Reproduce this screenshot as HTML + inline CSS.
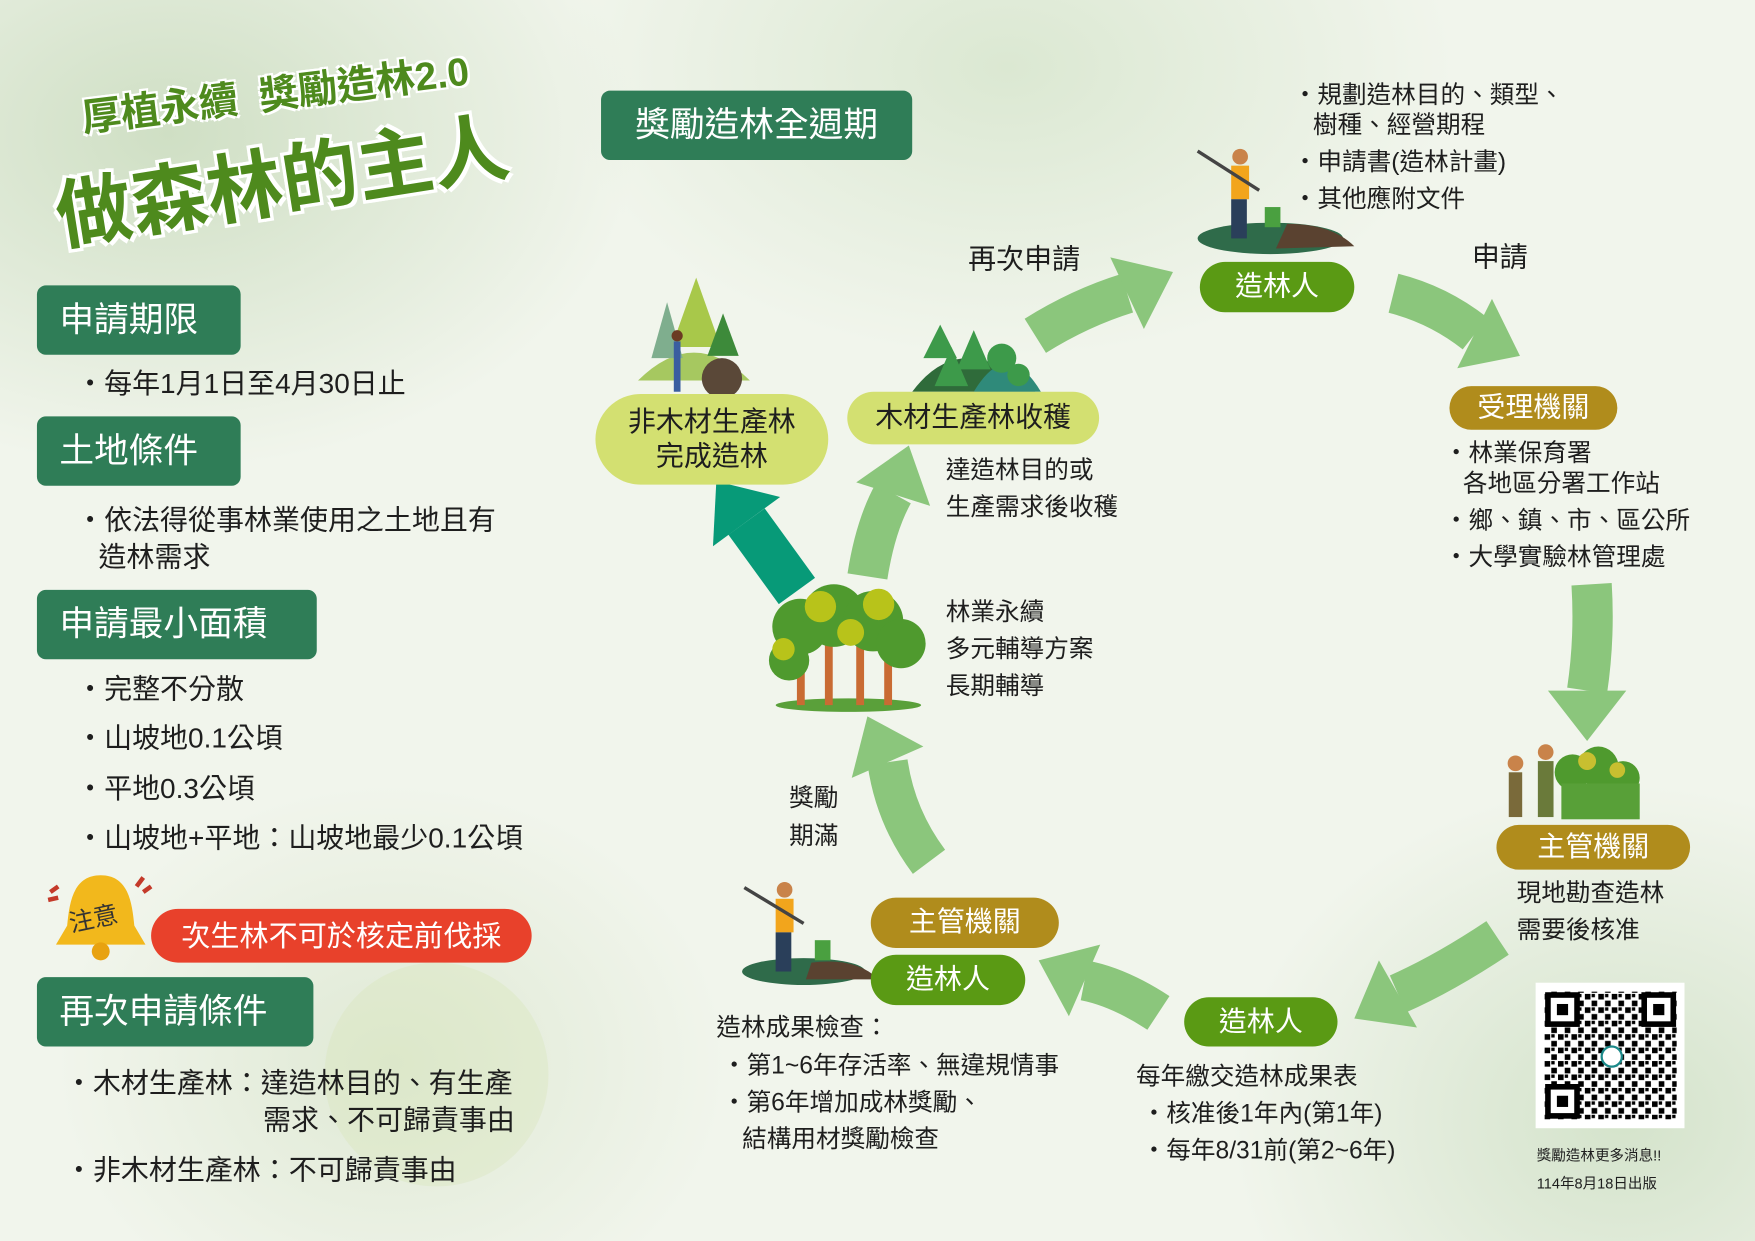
<!DOCTYPE html>
<html><head><meta charset="utf-8"><style>
html,body{margin:0;padding:0;}
body{width:1755px;height:1241px;overflow:hidden;background:#eef3e6;}
#s{position:absolute;left:0;top:0;width:1568px;height:1109px;transform:scale(1.11926);transform-origin:0 0;font-family:"Liberation Sans","Noto Sans CJK TC",sans-serif;color:#1e1e1e;
background:radial-gradient(ellipse 420px 300px at 150px 120px,#cfdfc4 0%,rgba(207,223,196,0) 100%),radial-gradient(ellipse 400px 260px at 900px 60px,#dbe8d2 0%,rgba(219,232,210,0) 100%),radial-gradient(ellipse 350px 300px at 1450px 1000px,#d4e3cb 0%,rgba(212,227,203,0) 100%),radial-gradient(ellipse 300px 250px at 350px 950px,#dfe9d4 0%,rgba(223,233,212,0) 100%),#f1f5ec;}
.a{position:absolute;white-space:nowrap;}
.h{position:absolute;background:#2f7d57;color:#fff;border-radius:8px;font-size:31px;line-height:62px;height:62px;padding-left:20px;box-sizing:border-box;}
.t{position:absolute;font-size:25px;line-height:30px;white-space:nowrap;}
.s{position:absolute;font-size:22px;line-height:28px;white-space:nowrap;}
.p{position:absolute;border-radius:24px;color:#fff;font-size:25px;text-align:center;}
.g{background:#5a9a14;}
.o{background:#b08c1c;}
.y{background:#d3e071;color:#1e1e1e;}
</style></head><body><div id="s">
<div class="a" style="left:70px;top:78px;transform:rotate(-7deg);transform-origin:0 0;font-size:35px;font-weight:bold;color:#4e8a1d;text-shadow:2px 2px 0 #fff,-2px -2px 0 #fff,2px -2px 0 #fff,-2px 2px 0 #fff;">厚植永續&nbsp;&nbsp;獎勵造林2.0</div>
<div class="a" style="left:42px;top:140px;transform:rotate(-9deg);transform-origin:0 0;font-size:68px;font-weight:bold;color:#4e8a1d;text-shadow:3px 3px 0 #fff,-3px -3px 0 #fff,3px -3px 0 #fff,-3px 3px 0 #fff;">做森林的主人</div>

<div class="h" style="left:33px;top:255px;width:182px;">申請期限</div>
<div class="t" style="left:68px;top:328px;">・每年1月1日至4月30日止</div>
<div class="h" style="left:33px;top:372px;width:182px;">土地條件</div>
<div class="t" style="left:68px;top:450px;">・依法得從事林業使用之土地且有</div>
<div class="t" style="left:88px;top:483px;">造林需求</div>
<div class="h" style="left:33px;top:527px;width:250px;">申請最小面積</div>
<div class="t" style="left:68px;top:601px;">・完整不分散</div>
<div class="t" style="left:68px;top:645px;">・山坡地0.1公頃</div>
<div class="t" style="left:68px;top:690px;">・平地0.3公頃</div>
<div class="t" style="left:68px;top:734px;">・山坡地+平地：山坡地最少0.1公頃</div>

<svg class="a" style="left:40px;top:772px" width="100" height="90"><path d="M50 10 C25 10 22 35 20 55 L10 72 L90 72 L80 55 C78 35 75 10 50 10Z" fill="#f2b81c"/><circle cx="50" cy="78" r="8" fill="#e8a210"/><path d="M5 25 L12 20 M3 32 L12 30 M88 12 L82 20 M95 20 L88 25" stroke="#c43a2a" stroke-width="4"/><text x="22" y="55" font-size="22" fill="#333" transform="rotate(-12 50 50)" font-family="Liberation Sans,Noto Sans CJK TC,sans-serif">注意</text></svg>
<div class="a" style="left:135px;top:812px;width:340px;height:48px;border-radius:24px;background:#e8412b;color:#fff;font-size:26px;line-height:48px;text-align:center;">次生林不可於核定前伐採</div>

<div class="a" style="left:290px;top:860px;width:200px;height:200px;border-radius:50%;background:#d7e4b8;opacity:.35"></div>
<div class="h" style="left:33px;top:873px;width:247px;">再次申請條件</div>
<div class="t" style="left:58px;top:953px;">・木材生產林：達造林目的、有生產</div>
<div class="t" style="left:235px;top:986px;">需求、不可歸責事由</div>
<div class="t" style="left:58px;top:1031px;">・非木材生產林：不可歸責事由</div>

<div class="a" style="left:537px;top:81px;width:278px;height:62px;background:#2f7d57;color:#fff;border-radius:8px;font-size:31px;line-height:62px;text-align:center;">獎勵造林全週期</div>

<svg class="a" style="left:0;top:0" width="1568" height="1109">
<g fill="none" stroke="#8bc67c" stroke-width="36">
<path d="M925,300 Q965,275 1007,262"/>
<path d="M1245,262 Q1285,272 1318,298"/>
<path d="M1422,522 Q1425,570 1418,617"/>
<path d="M1338,838 Q1290,870 1249,888"/>
<path d="M1035,905 Q1000,882 969,876"/>
<path d="M830,770 Q800,730 793,681"/>
<path d="M775,515 Q782,470 798,441"/>
</g>
<g fill="#8bc67c">
<polygon points="1048,243 1022,294 992,230"/>
<polygon points="1358,318 1302,329 1333,267"/>
<polygon points="1418,662 1383,617 1453,617"/>
<polygon points="1210,910 1232,858 1266,918"/>
<polygon points="928,858 983,844 955,908"/>
<polygon points="775,640 825,667 761,695"/>
<polygon points="812,398 831,452 765,431"/>
</g>
<path d="M712,528 L667,466" stroke="#079a78" stroke-width="40"/>
<polygon points="640,430 697,444 637,488" fill="#079a78"/>
<ellipse cx="758" cy="630" rx="65" ry="6" fill="#5aa03a"/>
<g fill="#c96b33"><rect x="712" y="570" width="7" height="60"/><rect x="737" y="565" width="7" height="65"/><rect x="765" y="570" width="7" height="60"/><rect x="790" y="575" width="7" height="55"/></g>
<g fill="#4f9a2e"><circle cx="715" cy="560" r="25"/><circle cx="745" cy="550" r="28"/><circle cx="780" cy="555" r="27"/><circle cx="805" cy="575" r="22"/><circle cx="705" cy="590" r="18"/></g>
<g fill="#b8c31a"><circle cx="733" cy="542" r="14"/><circle cx="785" cy="540" r="14"/><circle cx="760" cy="565" r="12"/><circle cx="700" cy="580" r="10"/></g>
<path d="M815,350 Q860,290 925,350Z" fill="#2f6b3a"/><path d="M870,350 Q900,300 930,350Z" fill="#2f8a7a"/>
<g fill="#3d9a4a"><polygon points="840,290 825,320 855,320"/><polygon points="870,295 855,330 885,330"/><polygon points="850,310 835,345 865,345"/><circle cx="895" cy="320" r="13"/><circle cx="910" cy="335" r="10"/></g>
<path d="M570,340 Q620,290 670,340Z" fill="#a6c860"/>
<g><polygon points="622,248 600,310 644,310" fill="#a8c84a"/><polygon points="596,270 582,320 610,320" fill="#7fae8e"/><polygon points="646,280 632,318 660,318" fill="#3d8a3a"/></g>
<circle cx="645" cy="338" r="18" fill="#5a4838"/>
<rect x="602" y="305" width="6" height="45" fill="#3a5ea0"/><circle cx="605" cy="300" r="5" fill="#6b3a22"/>
<ellipse cx="1135" cy="213" rx="65" ry="14" fill="#2f6b4a"/>
<path d="M1150,200 Q1190,200 1210,220 L1140,222Z" fill="#5a4230"/>
<rect x="1100" y="148" width="16" height="30" fill="#f2a51c"/><rect x="1100" y="178" width="14" height="35" fill="#2a3f5a"/><circle cx="1108" cy="140" r="7" fill="#c9834a"/>
<line x1="1070" y1="135" x2="1125" y2="170" stroke="#444" stroke-width="3"/>
<rect x="1130" y="185" width="14" height="18" fill="#4aa040"/>
<ellipse cx="718" cy="868" rx="55" ry="12" fill="#2f6b4a"/>
<path d="M725,860 Q765,855 785,875 L720,875Z" fill="#5a4230"/>
<rect x="693" y="803" width="16" height="30" fill="#f2a51c"/><rect x="693" y="833" width="14" height="35" fill="#2a3f5a"/><circle cx="701" cy="795" r="7" fill="#c9834a"/>
<line x1="665" y1="793" x2="718" y2="825" stroke="#444" stroke-width="3"/>
<rect x="728" y="840" width="14" height="18" fill="#4aa040"/>
<g fill="#4f9a2e"><circle cx="1405" cy="690" r="16"/><circle cx="1428" cy="685" r="18"/><circle cx="1450" cy="695" r="15"/></g>
<g fill="#c8bf30"><circle cx="1418" cy="680" r="8"/><circle cx="1445" cy="688" r="7"/></g>
<rect x="1395" y="700" width="70" height="32" fill="#58a038"/>
<rect x="1348" y="690" width="12" height="40" fill="#7a6a3a"/><circle cx="1354" cy="682" r="7" fill="#c9834a"/>
<rect x="1374" y="680" width="14" height="50" fill="#6a7a3a"/><circle cx="1381" cy="672" r="7" fill="#c9834a"/>
<rect x="1372" y="878" width="133" height="130" fill="#fff"/>
<defs><pattern id="q" width="12" height="12" patternUnits="userSpaceOnUse"><rect width="5" height="5" fill="#000"/><rect x="6" y="6" width="5" height="5" fill="#000"/><rect x="6" y="0" width="3" height="3" fill="#000"/></pattern></defs>
<rect x="1380" y="886" width="118" height="114" fill="url(#q)"/>
<g fill="#fff" stroke="#000" stroke-width="5"><rect x="1383" y="889" width="26" height="26"/><rect x="1469" y="889" width="26" height="26"/><rect x="1383" y="971" width="26" height="26"/></g>
<g fill="#000"><rect x="1391" y="897" width="10" height="10"/><rect x="1477" y="897" width="10" height="10"/><rect x="1391" y="979" width="10" height="10"/></g>
<circle cx="1440" cy="944" r="9" fill="#fff" stroke="#1b8a8a" stroke-width="2"/>
</svg>

<div class="p g" style="left:1072px;top:234px;width:138px;height:45px;line-height:45px;">造林人</div>
<div class="p o" style="left:1295px;top:345px;width:150px;height:39px;line-height:39px;">受理機關</div>
<div class="p o" style="left:1337px;top:737px;width:173px;height:40px;line-height:40px;">主管機關</div>
<div class="p g" style="left:1058px;top:891px;width:137px;height:44px;line-height:44px;">造林人</div>
<div class="p o" style="left:778px;top:802px;width:168px;height:45px;line-height:45px;">主管機關</div>
<div class="p g" style="left:778px;top:853px;width:138px;height:45px;line-height:45px;">造林人</div>
<div class="p y" style="left:757px;top:350px;width:225px;height:47px;line-height:47px;">木材生產林收穫</div>
<div class="p y" style="left:532px;top:352px;width:208px;height:81px;border-radius:41px;line-height:31px;padding-top:10px;box-sizing:border-box;">非木材生產林<br>完成造林</div>

<div class="s" style="left:1155px;top:71px;">・規劃造林目的、類型、</div>
<div class="s" style="left:1173px;top:98px;">樹種、經營期程</div>
<div class="s" style="left:1155px;top:131px;">・申請書(造林計畫)</div>
<div class="s" style="left:1155px;top:164px;">・其他應附文件</div>
<div class="t" style="left:865px;top:217px;">再次申請</div>
<div class="t" style="left:1315px;top:215px;">申請</div>
<div class="s" style="left:1290px;top:391px;">・林業保育署</div>
<div class="s" style="left:1307px;top:418px;">各地區分署工作站</div>
<div class="s" style="left:1290px;top:451px;">・鄉、鎮、市、區公所</div>
<div class="s" style="left:1290px;top:484px;">・大學實驗林管理處</div>
<div class="s" style="left:845px;top:406px;">達造林目的或</div>
<div class="s" style="left:845px;top:439px;">生產需求後收穫</div>
<div class="s" style="left:845px;top:533px;">林業永續</div>
<div class="s" style="left:845px;top:566px;">多元輔導方案</div>
<div class="s" style="left:845px;top:599px;">長期輔導</div>
<div class="s" style="left:705px;top:699px;">獎勵</div>
<div class="s" style="left:705px;top:733px;">期滿</div>
<div class="s" style="left:1355px;top:784px;">現地勘查造林</div>
<div class="s" style="left:1355px;top:817px;">需要後核准</div>
<div class="s" style="left:640px;top:904px;">造林成果檢查：</div>
<div class="s" style="left:645px;top:938px;">・第1~6年存活率、無違規情事</div>
<div class="s" style="left:645px;top:971px;">・第6年增加成林獎勵、</div>
<div class="s" style="left:663px;top:1004px;">結構用材獎勵檢查</div>
<div class="s" style="left:1015px;top:948px;">每年繳交造林成果表</div>
<div class="s" style="left:1020px;top:981px;">・核准後1年內(第1年)</div>
<div class="s" style="left:1020px;top:1014px;">・每年8/31前(第2~6年)</div>
<div class="a" style="left:1373px;top:1022px;font-size:13px;">獎勵造林更多消息!!</div>
<div class="a" style="left:1373px;top:1047px;font-size:13px;">114年8月18日出版</div>
</div></body></html>
